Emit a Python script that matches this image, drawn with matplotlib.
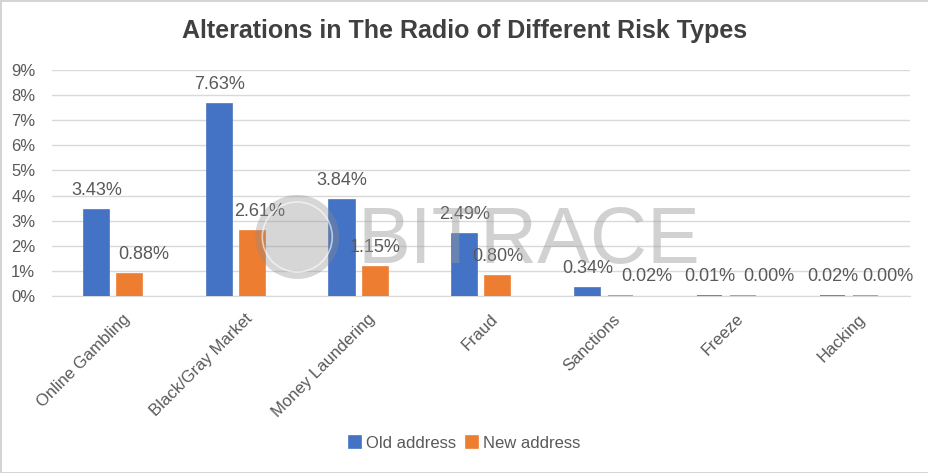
import matplotlib.pyplot as plt
import matplotlib.transforms as mtransforms
from matplotlib.patches import Ellipse
import numpy as np

plt.rcParams['font.family'] = ['Liberation Sans', 'DejaVu Sans']

# data
categories = ["Online Gambling", "Black/Gray Market", "Money Laundering", "Fraud",
              "Sanctions", "Freeze", "Hacking"]
old_address = [3.43, 7.63, 3.84, 2.49, 0.34, 0.01, 0.02]
new_address = [0.88, 2.61, 1.15, 0.80, 0.02, 0.00, 0.004]
yticks = [0, 1, 2, 3, 4, 5, 6, 7, 8, 9]

BLUE = "#4472C4"
ORANGE = "#ED7D31"
TXT = "#595959"

fig = plt.figure(figsize=(9.29, 4.73), dpi=100)
fig.patch.set_edgecolor("#d4d4d4")
fig.patch.set_linewidth(2)
ax = fig.add_axes([0.056, 0.374, 0.924, 0.478])

x = np.arange(len(categories))
w = 0.205
off = 0.135
b1 = ax.bar(x - off, old_address, w, color=BLUE, edgecolor=BLUE, linewidth=1.2, label="Old address", zorder=3)
b2 = ax.bar(x + off, new_address, w, color=ORANGE, edgecolor=ORANGE, linewidth=1.2, label="New address", zorder=3)

# value labels (orange ones nudged right like the original)
nudge_new = [14, 7, 0, 0, 26, 26, 22]
for i, v in enumerate(old_address):
    ax.annotate(f"{v:.2f}%", (x[i] - off, v), xytext=(0, 11), textcoords="offset pixels",
                ha="center", va="bottom", fontsize=13, color=TXT, zorder=5)
for i, v in enumerate(new_address):
    ax.annotate(f"{v:.2f}%", (x[i] + off, v), xytext=(nudge_new[i], 11), textcoords="offset pixels",
                ha="center", va="bottom", fontsize=13, color=TXT, zorder=5)

ax.set_xlim(-0.5, len(categories) - 0.5)
ax.set_ylim(0, 9)
ax.set_yticks(yticks)
ax.set_yticklabels([f"{t}%" for t in yticks], fontsize=12, color=TXT)
ax.yaxis.grid(True, color="#d9d9d9", linewidth=1, zorder=0)
ax.set_axisbelow(True)
ax.tick_params(axis="both", length=0)
ax.tick_params(axis="y", pad=12)
for s in ["top", "right", "left"]:
    ax.spines[s].set_visible(False)
ax.spines["bottom"].set_color("#d9d9d9")

ax.set_xticks(x)
ax.set_xticklabels(categories, rotation=45, ha="right", rotation_mode="anchor",
                   fontsize=12, color=TXT)
ax.tick_params(axis="x", pad=11)
shift = mtransforms.ScaledTranslation(9 / 100, 0, fig.dpi_scale_trans)
for lbl in ax.get_xticklabels():
    lbl.set_transform(lbl.get_transform() + shift)

# watermark
fig.text(0.385, 0.487, "BITRACE", fontsize=57, color="#9a9a9a", alpha=0.45,
         ha="left", va="center", zorder=10)
logo = Ellipse((0.32, 0.499), 84 / 929, 84 / 473, transform=fig.transFigure,
               facecolor="#8c8c8c", alpha=0.35, edgecolor="none", zorder=10)
fig.add_artist(logo)
ring = Ellipse((0.32, 0.499), 70 / 929, 70 / 473, transform=fig.transFigure,
               facecolor="none", edgecolor="white", linewidth=1.2, alpha=0.6, zorder=10)
fig.add_artist(ring)

fig.suptitle("Alterations in The Radio of Different Risk Types", fontsize=18,
             fontweight="bold", color="#404040", y=0.96)

fig.legend(handles=[b1, b2], loc="center", bbox_to_anchor=(0.5, 0.063), ncol=2,
           frameon=False, fontsize=12, handlelength=0.7, handleheight=0.7,
           handletextpad=0.3, columnspacing=0.6, labelcolor=TXT)

plt.savefig("out.png", dpi=100)
